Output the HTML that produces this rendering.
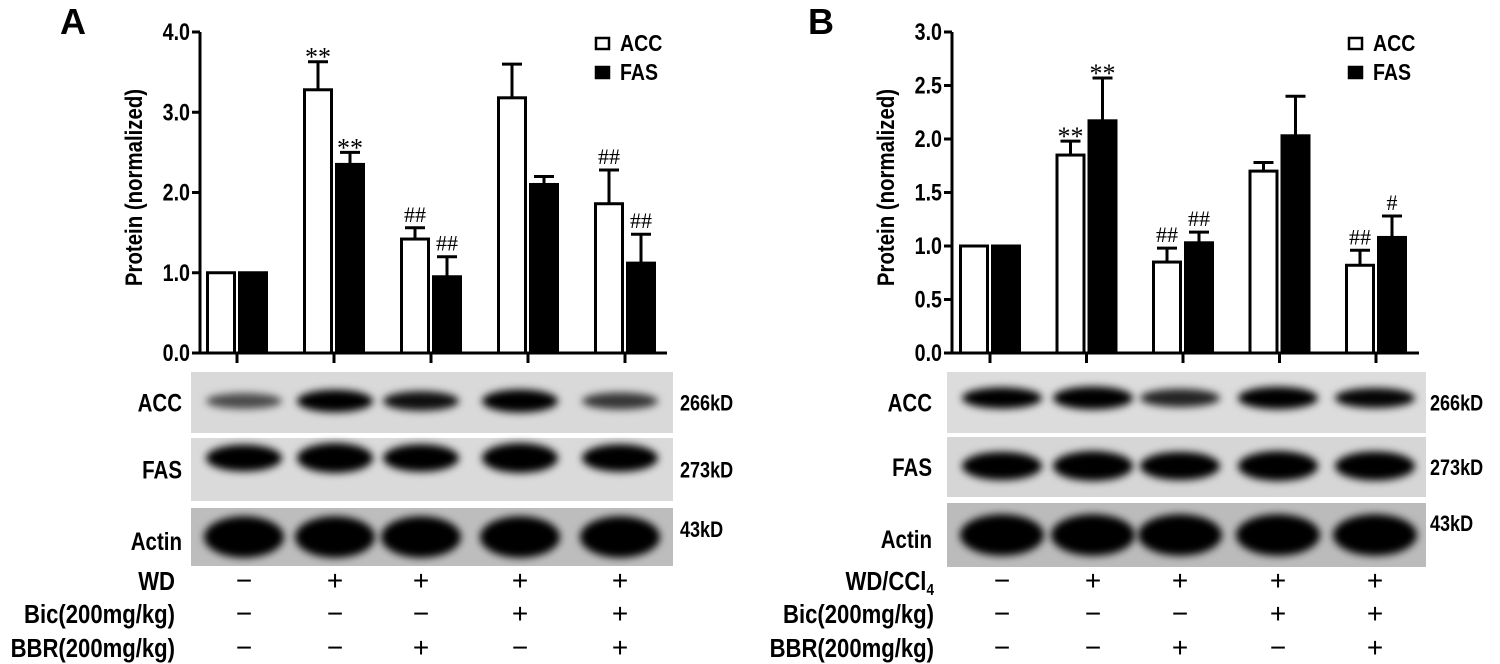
<!DOCTYPE html>
<html><head><meta charset="utf-8"><style>
html,body{margin:0;padding:0;background:#fff;}
svg{display:block;font-family:"Liberation Sans",sans-serif;}
</style></head><body>
<svg id="fig" width="1500" height="664" viewBox="0 0 1500 664">
<defs>
<filter id="blur" x="-30%" y="-80%" width="160%" height="260%"><feGaussianBlur stdDeviation="4"/></filter>
</defs>
</svg>
<script>
const groups = ['Control','WD','WD+BBR','WD+Bic','WD+Bic+BBR'];
const accA = [1.0, 3.28, 1.42, 3.18, 1.86];
const accAErr = [0, 0.35, 0.14, 0.42, 0.42];
const fasA = [1.0, 2.35, 0.95, 2.1, 1.12];
const fasAErr = [0, 0.15, 0.25, 0.1, 0.36];
const accASig = ['', '**', '##', '', '##'];
const fasASig = ['', '**', '##', '', '##'];
const ticksA = ['0.0','1.0','2.0','3.0','4.0'];
const accB = [1.0, 1.85, 0.85, 1.7, 0.82];
const accBErr = [0, 0.13, 0.13, 0.08, 0.14];
const fasB = [1.0, 2.17, 1.03, 2.03, 1.08];
const fasBErr = [0, 0.4, 0.1, 0.37, 0.2];
const accBSig = ['', '**', '##', '', '##'];
const fasBSig = ['', '**', '##', '', '#'];
const ticksB = ['0.0','0.5','1.0','1.5','2.0','2.5','3.0'];
const wdRow = ['−','+','+','+','+'];
const bicRow = ['−','−','−','+','+'];
const bbrRow = ['−','−','+','−','+'];
const bandAccA = [0.4, 0.95, 0.7, 1.0, 0.5];
const bandFasA = [0.8, 1.0, 0.85, 1.0, 0.85];
const bandAccB = [0.85, 1.0, 0.6, 0.95, 0.75];
const bandFasB = [0.9, 1.0, 0.9, 1.0, 0.95];

const svg = document.getElementById('fig');
const NS = 'http://www.w3.org/2000/svg';
function mk(tag, attrs, parent){ const e=document.createElementNS(NS,tag); for(const k in attrs) e.setAttribute(k,attrs[k]); (parent||svg).appendChild(e); return e; }
function txt(s, attrs, parent){ const e=mk('text',attrs,parent); e.textContent=s; return e; }
function ctxt(s, x, y, size, anchor, parent, sx){
  sx = sx||0.82;
  const e = mk('text',{x:0,y:0,'font-size':size,'font-weight':'bold','text-anchor':anchor||'start',transform:`translate(${x},${y}) scale(${sx},1)`},parent);
  e.textContent=s; return e;
}

function panel(P){
  const g = mk('g',{});
  
  
  const y0=353, y1=32, vmax=parseFloat(P.ticks[P.ticks.length-1]);
  const Y = v => y0 - (v/vmax)*(y0-y1);
  const X = i => P.c0 + i*P.step;
  const L = txt(P.letter,{x:P.lx,y:34,'font-size':36,'font-weight':'bold'},g);
  
  
  const ya = mk('line',{x1:P.ax,y1:y1,x2:P.ax,y2:y0,stroke:'#000','stroke-width':3},g);
  
  
  const xa = mk('line',{x1:P.ax-8,y1:y0,x2:P.ax+467,y2:y0,stroke:'#000','stroke-width':3},g);
  
  
  P.ticks.forEach(t=>{
    const v=parseFloat(t);
    mk('line',{x1:P.ax-8,y1:Y(v),x2:P.ax,y2:Y(v),stroke:'#000','stroke-width':3},g);
    const tl = ctxt(t,P.ax-10,Y(v)+8,24,'end',g);
    
    
  });
  const yt = mk('text',{x:0,y:0,'font-size':24,'font-weight':'bold','text-anchor':'middle',transform:`translate(${P.ax-58},${(y0+y1)/2-5}) rotate(-90) scale(0.85,1)`},g);
  yt.textContent='Protein (normalized)';
  
  
  for(let i=0;i<groups.length;i++){
    const c=X(i);
    mk('line',{x1:c,y1:y0,x2:c,y2:y0+10,stroke:'#000','stroke-width':3},g);
    [[P.acc,P.accE,c-31,P.accS],[P.fas,P.fasE,c+1,P.fasS]].forEach(([arr,err,bx,sig],k)=>{
      const v=arr[i], e=err[i];
      if(e>0){
        mk('line',{x1:bx+15,y1:Y(v),x2:bx+15,y2:Y(v+e),stroke:'#000','stroke-width':3},g);
        mk('line',{x1:bx+5,y1:Y(v+e),x2:bx+25,y2:Y(v+e),stroke:'#000','stroke-width':3},g);
      }
      const b = mk('rect',{x:bx+1.5,y:Y(v),width:27,height:y0-Y(v),fill:k?'#000':'#fff',stroke:'#000','stroke-width':3},g);
      
      
      if(sig[i]){
        const star = sig[i][0]=='*';
        const s = txt(sig[i],{x:bx+15,y:Y(v+e)-6+(star?10:0),'font-size':star?26:22,'font-family':'Liberation Serif, serif','text-anchor':'middle'},g);
        
        
      }
    });
  }
  [['ACC','#fff',37],['FAS','#000',66]].forEach(([n,f,yy])=>{
    const lg = mk('g',{},g);
    
    
    mk('rect',{x:P.legx,y:yy+1,width:13,height:11,fill:f,stroke:'#000','stroke-width':2.5},lg);
    ctxt(n,P.legx+24,yy+14,23,'start',lg,0.85);
  });
  P.blots.forEach(b=>{
    const bg = mk('g',{},g);
    
    
    mk('rect',{x:P.bx0,y:b.y,width:P.bx1-P.bx0,height:b.h,fill:b.bg},bg);
    P.lanes.forEach((lx,i)=>{
      const a=b.int[i];
      mk('ellipse',{cx:lx,cy:b.by,rx:b.rx,ry:b.ry*(0.55+0.6*a),fill:'#000','fill-opacity':Math.min(1,0.3+0.9*a),filter:'url(#blur)'},bg);
    });
    ctxt(b.name,P.blx,b.y+b.h/2+9+(b.loff||0),25,'end',bg,0.82);
    ctxt(b.kd,P.kdx,b.y+b.h/2+8+(b.kdoff||0),22,'start',bg,0.82);
  });
  [[P.row1,wdRow,581],['Bic(200mg/kg)',bicRow,614],['BBR(200mg/kg)',bbrRow,648]].forEach(([lab,row,yy])=>{
    const rg = mk('g',{},g);
    
    
    const t = ctxt('',P.rlx,yy+9,26,'end',rg,0.85);
    if(lab==='WD/CCl4'){ t.textContent='WD/CCl'; const sp=mk('tspan',{'font-size':16,dy:5},t); sp.textContent='4'; }
    else t.textContent=lab;
    row.forEach((s,i)=>txt(s,{x:P.lanes[i],y:yy+9,'font-size':28,'text-anchor':'middle'},rg));
  });
}

panel({id:'a',letter:'A',lx:60,ax:200,c0:237,step:97,acc:accA,accE:accAErr,fas:fasA,fasE:fasAErr,accS:accASig,fasS:fasASig,ticks:ticksA,legx:596,
  bx0:191,bx1:673,lanes:[244,335,421,520,620],blx:182,kdx:680,rlx:175,row1:'WD',
  blots:[{name:'ACC',kd:'266kD',y:372,h:61,by:401,rx:38,ry:10,bg:'#d9d9d9',int:bandAccA},
         {name:'FAS',kd:'273kD',y:438,h:63,by:458,rx:38,ry:13,bg:'#dadada',int:bandFasA},
         {name:'Actin',kd:'43kD',y:508,h:58,by:537,rx:40,ry:18,bg:'#bdbdbd',int:[1,1,1,1,1],kdoff:-8,loff:4}]});
panel({id:'b',letter:'B',lx:808,ax:952,c0:990,step:96.5,acc:accB,accE:accBErr,fas:fasB,fasE:fasBErr,accS:accBSig,fasS:fasBSig,ticks:ticksB,legx:1349,
  bx0:947,bx1:1426,lanes:[1002,1093,1180,1278,1375],blx:932,kdx:1430,rlx:934,row1:'WD/CCl4',
  blots:[{name:'ACC',kd:'266kD',y:372,h:61,by:398,rx:40,ry:10,bg:'#dcdcdc',int:bandAccB},
         {name:'FAS',kd:'273kD',y:437,h:60,by:466,rx:40,ry:13,bg:'#d6d6d6',int:bandFasB},
         {name:'Actin',kd:'43kD',y:503,h:64,by:535,rx:42,ry:18,bg:'#bbbbbb',int:[1,1,1,1,1],kdoff:-12,loff:4}]});
</script>
</body></html>
